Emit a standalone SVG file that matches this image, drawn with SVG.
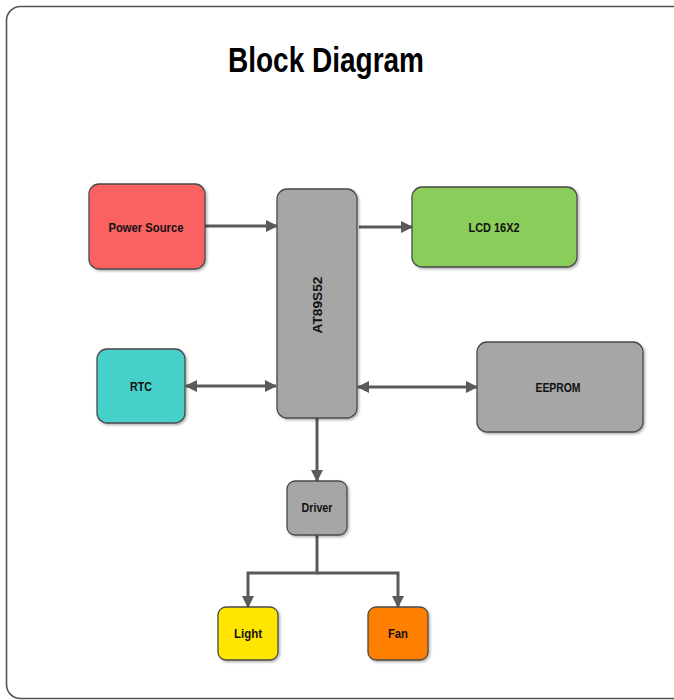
<svg xmlns="http://www.w3.org/2000/svg" width="674" height="700" viewBox="0 0 674 700">
  <style>
    .box { stroke: #4a4a4a; stroke-width: 1.3; filter: url(#sh); }
    .lbl { font-family: "Liberation Sans", Arial, sans-serif; font-weight: bold; font-size: 13px; fill: #111; text-anchor: middle; dominant-baseline: central; }
    .wire { fill: none; stroke: #5a5a5a; stroke-width: 3; }
  </style>
  <defs>
    <filter id="sh" x="-20%" y="-20%" width="140%" height="140%">
      <feDropShadow dx="1.5" dy="1.5" stdDeviation="1.2" flood-color="#000" flood-opacity="0.3"/>
    </filter>
    <marker id="ah" markerUnits="userSpaceOnUse" markerWidth="12" markerHeight="12" viewBox="0 0 12 12" refX="11" refY="6" orient="auto-start-reverse">
      <path d="M0,0 L12,6 L0,12 Z" fill="#5a5a5a"/>
    </marker>
  </defs>
  <rect x="6.5" y="6.5" width="690" height="692" rx="14" fill="#fff" stroke="#555" stroke-width="1.6"/>
  <text x="326" y="72" font-family="'Liberation Sans', Arial, sans-serif" font-weight="bold" font-size="35" fill="#000" text-anchor="middle" textLength="196" lengthAdjust="spacingAndGlyphs">Block Diagram</text>

  <g id="connectors">
    <line class="wire" x1="205" y1="226" x2="277" y2="226" marker-end="url(#ah)"/>
    <line class="wire" x1="359" y1="227" x2="412" y2="227" marker-end="url(#ah)"/>
    <line class="wire" x1="186" y1="386" x2="276" y2="386" marker-start="url(#ah)" marker-end="url(#ah)"/>
    <line class="wire" x1="358" y1="387" x2="477" y2="387" marker-start="url(#ah)" marker-end="url(#ah)"/>
    <line class="wire" x1="317" y1="418" x2="317" y2="481" marker-end="url(#ah)"/>
    <path class="wire" d="M317,535 V573 H248 V607" marker-end="url(#ah)"/>
    <path class="wire" d="M317,573 H398 V607" marker-end="url(#ah)"/>
  </g>

  <g id="power-source">
    <rect class="box" x="89" y="184" width="116" height="85" rx="10" fill="#fa6262"/>
    <text class="lbl" x="146" y="227" textLength="75" lengthAdjust="spacingAndGlyphs">Power Source</text>
  </g>
  <g id="at89s52">
    <rect class="box" x="277" y="189" width="80" height="229" rx="10" fill="#a6a6a6"/>
    <text class="lbl" transform="translate(317,305) rotate(-90)" x="0" y="0" textLength="57" lengthAdjust="spacingAndGlyphs">AT89S52</text>
  </g>
  <g id="lcd">
    <rect class="box" x="412" y="187" width="165" height="80" rx="10" fill="#8bcd5a"/>
    <text class="lbl" x="494" y="227" textLength="51" lengthAdjust="spacingAndGlyphs">LCD 16X2</text>
  </g>
  <g id="rtc">
    <rect class="box" x="97" y="349" width="88" height="74" rx="10" fill="#46cfc9"/>
    <text class="lbl" x="141" y="386" textLength="22" lengthAdjust="spacingAndGlyphs">RTC</text>
  </g>
  <g id="eeprom">
    <rect class="box" x="477" y="342" width="166" height="90" rx="10" fill="#a6a6a6"/>
    <text class="lbl" x="558" y="387" textLength="45" lengthAdjust="spacingAndGlyphs">EEPROM</text>
  </g>
  <g id="driver">
    <rect class="box" x="287" y="481" width="60" height="54" rx="8" fill="#a6a6a6"/>
    <text class="lbl" x="317" y="507" textLength="31" lengthAdjust="spacingAndGlyphs">Driver</text>
  </g>
  <g id="light">
    <rect class="box" x="218" y="607" width="60" height="53" rx="8" fill="#ffe600"/>
    <text class="lbl" x="248" y="633" textLength="28" lengthAdjust="spacingAndGlyphs">Light</text>
  </g>
  <g id="fan">
    <rect class="box" x="368" y="607" width="60" height="53" rx="8" fill="#ff7f00"/>
    <text class="lbl" x="398" y="633" textLength="20" lengthAdjust="spacingAndGlyphs">Fan</text>
  </g>
</svg>
